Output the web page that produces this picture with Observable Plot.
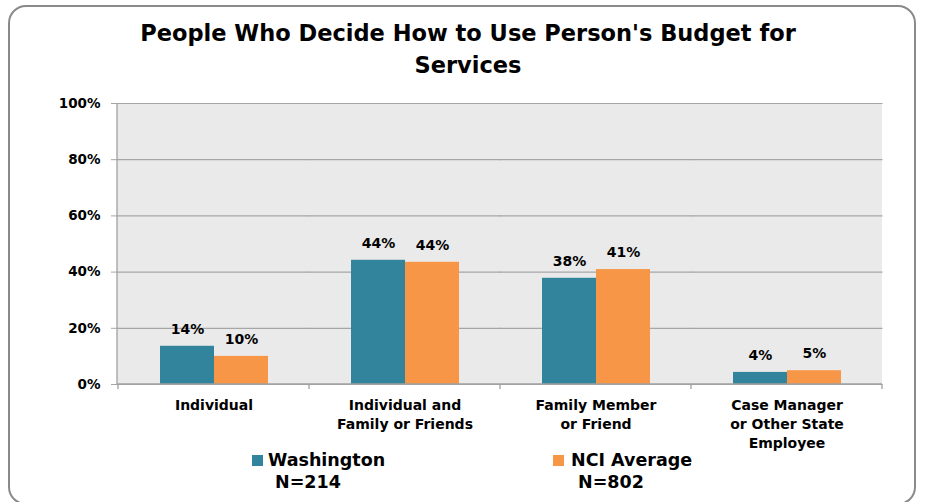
<!DOCTYPE html>
<html>
<head>
<meta charset="utf-8">
<script src="https://cdn.jsdelivr.net/npm/d3@7"></script>
<script src="https://cdn.jsdelivr.net/npm/@observablehq/plot@0.6"></script>
<style>
  html, body { margin: 0; padding: 0; background: #fff; }
  #wrap { position: relative; width: 926px; height: 502px; overflow: hidden; background: #fff; }
  #border { position: absolute; left: 8px; top: 5px; width: 908px; height: 500px; border: 2px solid #8a8a8a; border-radius: 18px; box-sizing: border-box; }
  #title { position: absolute; left: 0; top: 17px; width: 936px; text-align: center; font-family: "DejaVu Sans", sans-serif; font-weight: bold; font-size: 22.5px; line-height: 32px; color: #000; }
  #chart { position: absolute; left: 0; top: 90px; }
  .leg { position: absolute; font-family: "DejaVu Sans", sans-serif; font-weight: bold; font-size: 17.5px; color: #000; line-height: 20px; white-space: nowrap; }
  .sw { position: absolute; width: 11px; height: 11px; }
</style>
</head>
<body>
<div id="wrap">
  <div id="border"></div>
  <div id="title"></div>
  <div id="chart"></div>
  <div id="legend"></div>
</div>
<script>
const titleLines = ["People Who Decide How to Use Person's Budget for", "Services"];
const categories = ["Individual", "Individual and\nFamily or Friends", "Family Member\nor Friend", "Case Manager\nor Other State\nEmployee"];
const series = ["Washington", "NCI Average"];
const seriesN = ["N=214", "N=802"];
const washington = [13.6, 44.2, 37.8, 4.3];
const nciAverage = [10.0, 43.5, 40.9, 4.9];
const yTicks = [0, 20, 40, 60, 80, 100];
const colors = ["#31849b", "#f79646"];

document.getElementById("title").innerHTML = titleLines.join("<br>");

const data = categories.flatMap((c, i) => [
  {category: c, series: series[0], value: washington[i]},
  {category: c, series: series[1], value: nciAverage[i]}
]);

const plot = Plot.plot({
  width: 926,
  height: 364,
  marginLeft: 117,
  marginRight: 44,
  marginTop: 13,
  marginBottom: 70,
  style: {fontFamily: "DejaVu Sans, sans-serif", fontSize: "13.5px", background: "transparent"},
  fx: {domain: categories, padding: 0, label: null},
  x: {domain: series, paddingInner: 0, paddingOuter: 0.76, axis: null},
  y: {domain: [0, 100], label: null},
  color: {domain: series, range: colors},
  marks: [
    Plot.gridY(yTicks, {stroke: "#a6a6a6", strokeOpacity: 1, strokeWidth: 1.2, insetLeft: -0.5, insetRight: -0.5}),
    Plot.barY(data, {fx: "category", x: "series", y: "value", fill: "series"}),
    Plot.text(data, {fx: "category", x: "series", y: "value", text: d => Math.round(d.value) + "%", dy: -17, fontSize: 14, fontWeight: "bold", fill: "#000"}),
    Plot.axisY(yTicks, {tickFormat: d => d + "%", tickSize: 7, tickPadding: 11, stroke: "#a6a6a6", fontWeight: "bold", fontSize: 13.5, fill: "#000"}),
    Plot.axisFx({anchor: "bottom", tickSize: 0, tickPadding: 12, lineHeight: 1.36, fontSize: 14, fontWeight: "bold", fill: "#000", label: null})
  ]
});

document.getElementById("chart").appendChild(plot);

// plot-area background, axis lines and category boundary ticks, positioned with the plot's scales
const fx = plot.scale("fx");
const y = plot.scale("y");
const svg = d3.select(plot);
const x0 = fx.range[0], x1 = fx.range[1];
const y0 = y.apply(0), yTop = y.apply(100);
svg.insert("rect", ":first-child")
  .attr("x", x0).attr("y", yTop).attr("width", x1 - x0).attr("height", y0 - yTop)
  .attr("fill", "#eaeaea");
const g = svg.append("g").attr("stroke", "#a0a0a0").attr("stroke-width", 1.3);
g.append("line").attr("x1", x0).attr("x2", x0).attr("y1", yTop).attr("y2", y0);
g.append("line").attr("x1", x0).attr("x2", x1).attr("y1", y0).attr("y2", y0);
const bounds = categories.map(c => fx.apply(c)).concat([fx.apply(categories[categories.length - 1]) + fx.bandwidth]);
bounds.forEach(b => g.append("line").attr("x1", b).attr("x2", b).attr("y1", y0).attr("y2", y0 + 5));

// legend
const legend = document.getElementById("legend");
const legPos = [{sx: 252, tx: 268, nx: 275}, {sx: 553, tx: 571, nx: 578}];
series.forEach((s, i) => {
  const p = legPos[i];
  const sw = document.createElement("div");
  sw.className = "sw"; sw.style.left = p.sx + "px"; sw.style.top = "455px"; sw.style.background = colors[i];
  legend.appendChild(sw);
  const t = document.createElement("div");
  t.className = "leg"; t.style.left = p.tx + "px"; t.style.top = "450px"; t.textContent = s;
  legend.appendChild(t);
  const n = document.createElement("div");
  n.className = "leg"; n.style.left = p.nx + "px"; n.style.top = "472px"; n.textContent = seriesN[i];
  legend.appendChild(n);
});
</script>
</body>
</html>
